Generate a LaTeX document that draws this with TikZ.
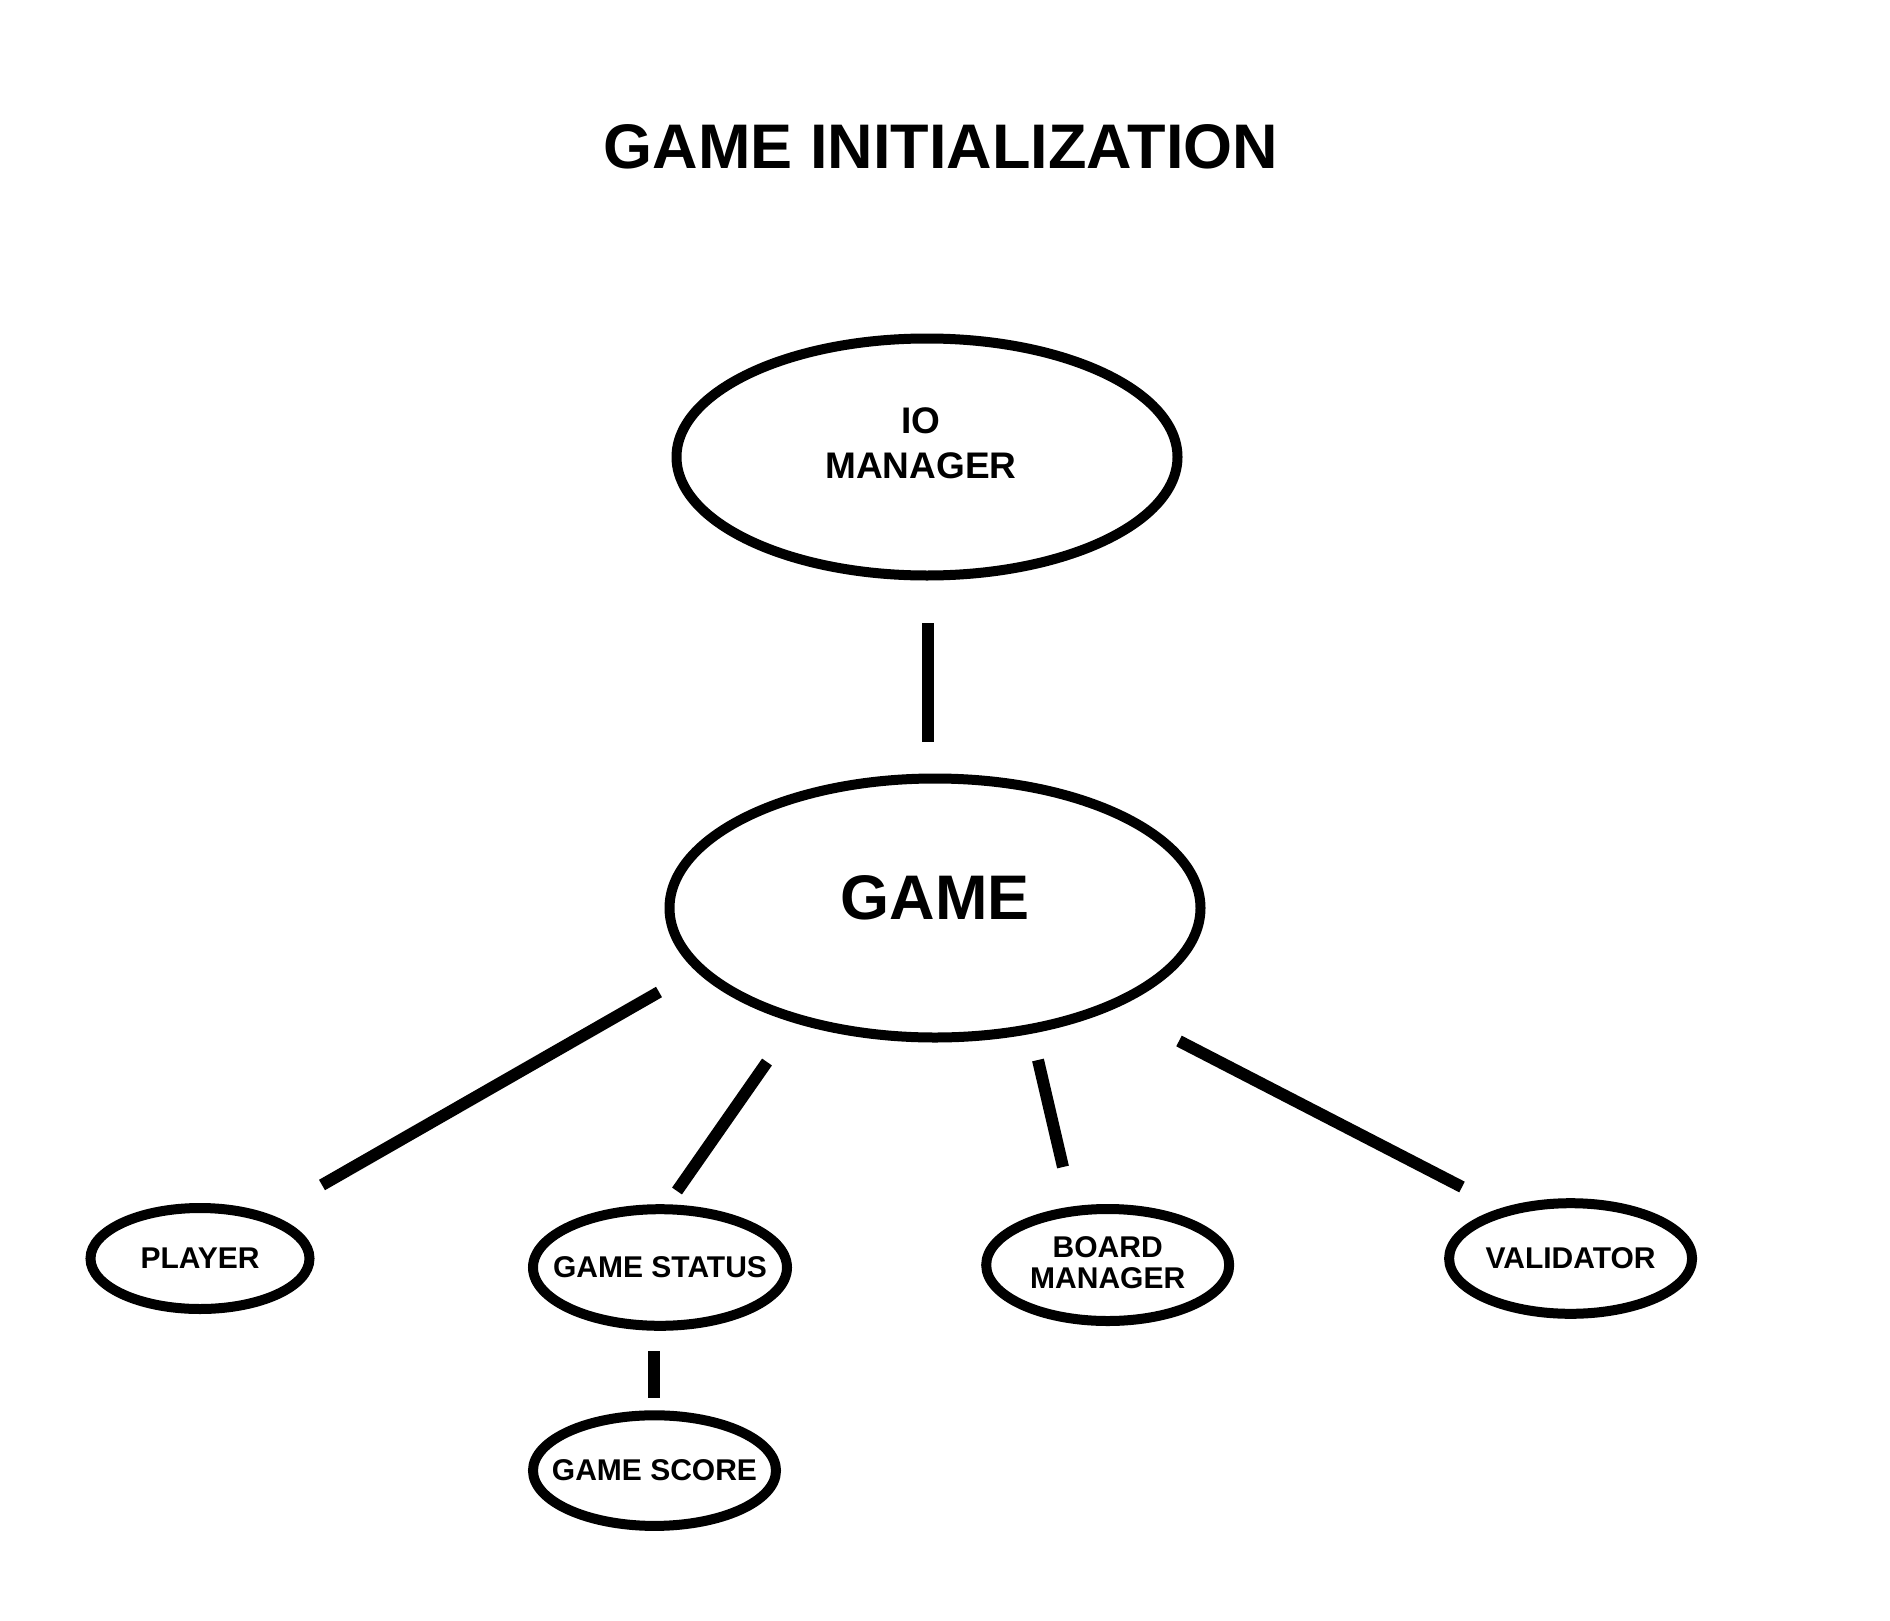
\documentclass[tikz,border=0pt]{standalone}
\usepackage{fontspec}
\setmainfont{Liberation Sans}
\usetikzlibrary{shapes.geometric}
\begin{document}
\begin{tikzpicture}[x=0.5pt,y=-0.5pt,
  oval/.style={draw=black, line width=5pt, ellipse, inner sep=0pt},
  txt/.style={align=center, inner sep=0pt, font=\bfseries\fontsize{15}{15.5}\selectfont},
  link/.style={draw=black, line width=6pt}]
\useasboundingbox[fill=white] (0,0) rectangle (1890,1621);
\node[font=\bfseries\fontsize{31.5}{34}\selectfont] (title) at (941,147) {GAME INITIALIZATION};
\node[oval, minimum width=250.5pt, minimum height=118.5pt] (io) at (927,457) {};
\node[txt, font=\bfseries\fontsize{18.5}{22.3}\selectfont] (iotext) at (921,443) {IO\\MANAGER};
\node[oval, minimum width=265.5pt, minimum height=129.5pt] (game) at (935,908) {};
\node[txt, font=\bfseries\fontsize{31.5}{34}\selectfont] (gametext) at (935,898) {GAME};
\node[oval, minimum width=109.5pt, minimum height=50.5pt] (player) at (200,1258.5) {};
\node[txt] (playertext) at (player.center) {PLAYER};
\node[oval, minimum width=127pt, minimum height=58.3pt] (status) at (660,1267.5) {};
\node[txt] (statustext) at (status.center) {GAME STATUS};
\node[oval, minimum width=121.5pt, minimum height=55.3pt] (score) at (654.5,1470.6) {};
\node[txt] (scoretext) at (score.center) {GAME SCORE};
\node[oval, minimum width=121.5pt, minimum height=56pt] (board) at (1107.7,1265) {};
\node[txt] (boardtext) at (1107.7,1263) {BOARD\\MANAGER};
\node[oval, minimum width=121.5pt, minimum height=55.3pt] (valid) at (1570.6,1258.5) {};
\node[txt] (validtext) at (valid.center) {VALIDATOR};
% connector end points
\coordinate (c1a) at (928,623);  \coordinate (c1b) at (928,742);
\coordinate (c2a) at (659,992);  \coordinate (c2b) at (322,1185);
\coordinate (c3a) at (767,1062); \coordinate (c3b) at (677,1191);
\coordinate (c4a) at (1038,1060); \coordinate (c4b) at (1063,1167);
\coordinate (c5a) at (1179,1041); \coordinate (c5b) at (1462,1187);
\coordinate (c6a) at (654,1351); \coordinate (c6b) at (654,1398);
\draw[link] (c1a) -- (c1b);
\draw[link] (c2a) -- (c2b);
\draw[link] (c3a) -- (c3b);
\draw[link] (c4a) -- (c4b);
\draw[link] (c5a) -- (c5b);
\draw[link] (c6a) -- (c6b);
\end{tikzpicture}
\end{document}
